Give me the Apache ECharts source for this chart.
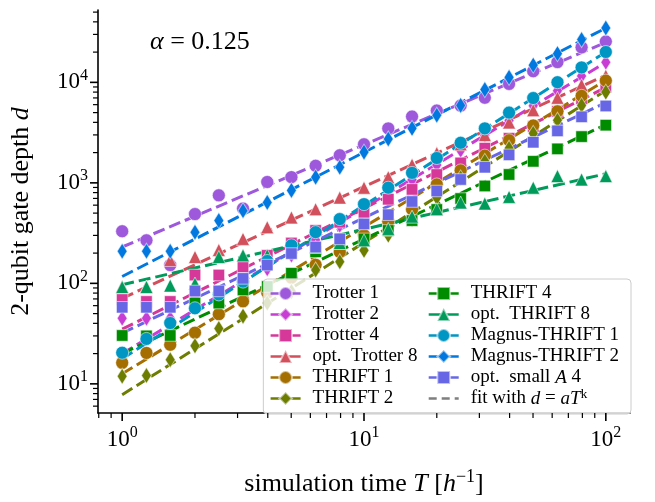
<!DOCTYPE html>
<html><head><meta charset="utf-8">
<script src="https://cdn.jsdelivr.net/npm/echarts@6/dist/echarts.min.js"></script>
<style>html,body{margin:0;padding:0;background:#fff}#c{width:655px;height:502px}</style>
</head><body><div id="c"></div>
<script>
// simulation times
const T = [1, 1.26, 1.58, 2.0, 2.51, 3.16, 3.98, 5.01, 6.31, 7.94, 10, 12.6, 15.8, 20.0, 25.1, 31.6, 39.8, 50.1, 63.1, 79.4, 100];

// 2-qubit gate depths
const trotter1    = [330, 268, 152, 489, 751, 556, 1020, 1140, 1480, 1880, 2420, 3480, 4570, 5240, 5870, 7030, 9650, 12900, 15900, 22300, 25500];
const trotter2    = [45, 45, 45, 74, 74, 104, 140, 192, 270, 378, 544, 764, 1073, 1506, 2115, 2970, 4170, 5860, 8240, 11560, 15850];
const trotter4    = [69, 66, 66, 121, 121, 146, 190, 252, 336, 406, 508, 687, 861, 1210, 1578, 2213, 2775, 3640, 5150, 6870, 8960];
const optTrotter8 = [93, 93, 171, 183, 215, 277, 362, 453, 547, 713, 895, 1140, 1517, 1977, 2422, 2990, 3990, 5290, 7030, 9420, 11640];
const thrift1     = [16.2, 20.3, 24.5, 32.3, 49.3, 66.2, 81, 114, 153, 205, 302, 415, 544, 964, 1330, 1867, 2655, 3724, 5150, 7340, 10400];
const thrift2     = [11.9, 12.1, 17.4, 23.9, 35.6, 47.2, 63.7, 83, 136, 164, 213, 302, 434, 713, 1122, 1637, 2213, 3110, 4200, 5900, 8000];
const thrift4     = [30.3, 30, 30.3, 63.7, 63.7, 86, 93, 126, 206, 248, 277, 336, 421, 543, 698, 931, 1211, 1638, 2178, 2886, 3750];
const optThrift8  = [92, 92, 95, 99.5, 183, 190, 190, 230, 230, 252, 268, 348, 461, 547, 637, 622, 725, 895, 1167, 1080, 1167];
const magnus1     = [20.4, 28, 40.3, 56.5, 77.6, 104, 167, 239, 323, 436, 614, 895, 1257, 1766, 2506, 3484, 5000, 6980, 10030, 14070, 20050];
const magnus2     = [209, 209, 209, 323, 421, 528, 637, 841, 1140, 1430, 2020, 2735, 3485, 4710, 5900, 8470, 11220, 14830, 19300, 26700, 34800];
const optSmallA4  = [57.8, 57.8, 57.8, 84, 84, 112, 152, 198, 230, 277, 390, 482, 652, 830, 1080, 1429, 1900, 2535, 3290, 4540, 5820];

// fitted power-law lines d = a T^k, read as value at T=1 and at T=100
const fitT     = [1, 100];
const fitStart = [230, 20, 35, 71, 12.6, 7.8, 20, 97, 17.8, 117, 32];
const fitEnd   = [25000, 15800, 8900, 11800, 10500, 8300, 3800, 1230, 20000, 34700, 6300];

const names = ['Trotter 1', 'Trotter 2', 'Trotter 4', 'opt. Trotter 8', 'THRIFT 1', 'THRIFT 2',
               'THRIFT 4', 'opt. THRIFT 8', 'Magnus-THRIFT 1', 'Magnus-THRIFT 2', 'opt. small A 4'];
const values = [trotter1, trotter2, trotter4, optTrotter8, thrift1, thrift2, thrift4, optThrift8, magnus1, magnus2, optSmallA4];
const fitName = 'fit with d = aT^k';

// axis ticks
const xMajor = [1, 10, 100];
const xMinor = [0.8, 0.9, 2, 3, 4, 5, 6, 7, 8, 9, 20, 30, 40, 50, 60, 70, 80, 90];
const yMajor = [10, 100, 1000, 10000];
const yMinor = [6, 7, 8, 9, 20, 30, 40, 50, 60, 70, 80, 90, 200, 300, 400, 500, 600, 700, 800, 900,
                2000, 3000, 4000, 5000, 6000, 7000, 8000, 9000, 20000, 30000, 40000, 50000];

const colors = ['#9d58dc', '#c83dd4', '#d6389a', '#d24f5c', '#a46e00', '#6c7d00', '#008c00', '#009b5a', '#0096c3', '#0078e0', '#6767e6'];
const symbols = ['circle', 'diamond', 'rect', 'triangle', 'circle', 'diamond', 'rect', 'triangle', 'circle', 'diamond', 'rect'];
const symSize = {circle: 13, diamond: [10, 16], rect: 11.5, triangle: 13};

const X_MIN = Math.pow(10, -0.1), X_MAX = Math.pow(10, 2.1);
const Y_MIN = Math.pow(10, 0.71), Y_MAX = Math.pow(10, 4.72);
const FONT = 'Liberation Serif';

function tickSeries(vals, axis, len, w) {
  return {
    type: 'custom', silent: true, clip: false, z: 6, animation: false,
    data: vals.map(v => axis === 'x' ? [v, Y_MIN] : [X_MIN, v]),
    renderItem: function (params, api) {
      const p = api.coord([api.value(0), api.value(1)]);
      const shape = axis === 'x'
        ? {x1: p[0], y1: p[1], x2: p[0], y2: p[1] + len}
        : {x1: p[0], y1: p[1], x2: p[0] - len, y2: p[1]};
      return {type: 'line', shape: shape, style: {stroke: '#000', lineWidth: w}};
    }
  };
}

const series = [];
names.forEach((n, i) => {
  series.push({
    type: 'line', name: n,
    data: T.map((t, j) => [t, values[i][j]]),
    symbol: symbols[i], symbolSize: symSize[symbols[i]],
    showSymbol: true, showAllSymbol: true,
    lineStyle: {opacity: 0, width: 2.5, color: colors[i]},
    itemStyle: {color: colors[i], borderColor: 'rgba(255,255,255,0.55)', borderWidth: 1},
    emphasis: {disabled: true}, animation: false
  });
  series.push({
    type: 'line', name: 'fit-' + n,
    data: fitT.map((t, j) => [t, j === 0 ? fitStart[i] : fitEnd[i]]),
    symbol: 'none',
    lineStyle: {color: colors[i], width: 3, type: [12, 5]},
    emphasis: {disabled: true}, animation: false
  });
});
series.push({
  type: 'line', name: fitName, data: [], symbol: 'none',
  lineStyle: {color: '#7f7f7f', width: 3, type: [8, 5]}, itemStyle: {color: '#7f7f7f', opacity: 0}
});
series.push(tickSeries(xMajor, 'x', 8, 1.6));
series.push(tickSeries(xMinor, 'x', 5, 1.2));
series.push(tickSeries(yMajor, 'y', 8, 1.6));
series.push(tickSeries(yMinor, 'y', 5, 1.2));

function powLabel(v) {
  const lg = Math.log10(v);
  const e = Math.round(lg);
  if (Math.abs(lg - e) > 1e-6) return '';
  return '{b|10}{s|' + e + '}';
}
const labelRich = {
  b: {fontSize: 23, fontFamily: FONT, color: '#000'},
  s: {fontSize: 16, fontFamily: FONT, color: '#000', padding: [0, 0, 14, 0]}
};
const legendLabels = {
  'opt. Trotter 8': 'opt.  Trotter 8',
  'opt. THRIFT 8': 'opt.  THRIFT 8',
  'opt. small A 4': 'opt.  small {i|A} 4',
  'fit with d = aT^k': 'fit with {i|d} = {i|aT}{s|k}'
};
const LF = 19;

const chart = echarts.init(document.getElementById('c'), null, {renderer: 'canvas'});
chart.setOption({
  animation: false,
  backgroundColor: '#fff',
  grid: {left: 98, top: 10, width: 532, height: 408, containLabel: false},
  xAxis: {
    type: 'log', logBase: 10, min: X_MIN, max: X_MAX,
    axisLine: {lineStyle: {color: '#000', width: 1.6}},
    axisTick: {show: false}, splitLine: {show: false},
    axisLabel: {formatter: powLabel, rich: labelRich, margin: 12, showMinLabel: false, showMaxLabel: false},
    name: 'simulation time {i|T} [{i|h}{s|−1}]', nameLocation: 'middle', nameGap: 55,
    nameTextStyle: {fontSize: 26, fontFamily: FONT, color: '#000',
      rich: {i: {fontSize: 26, fontFamily: FONT, fontStyle: 'italic'}, s: {fontSize: 18, fontFamily: FONT, padding: [0, 0, 14, 0]}}}
  },
  yAxis: {
    type: 'log', logBase: 10, min: Y_MIN, max: Y_MAX,
    axisLine: {lineStyle: {color: '#000', width: 1.6}},
    axisTick: {show: false}, splitLine: {show: false},
    axisLabel: {formatter: powLabel, rich: labelRich, margin: 10, showMinLabel: false, showMaxLabel: false},
    name: '2-qubit gate depth {i|d}', nameLocation: 'middle', nameGap: 64,
    nameTextStyle: {fontSize: 26, fontFamily: FONT, color: '#000',
      rich: {i: {fontSize: 26, fontFamily: FONT, fontStyle: 'italic'}}}
  },
  legend: {
    data: names.concat([fitName]),
    orient: 'vertical', right: 24, bottom: 88, height: 134,
    itemWidth: 30, itemHeight: 16, itemGap: 0,
    padding: [4, 2, 5, 6],
    backgroundColor: 'rgba(255,255,255,0.8)', borderColor: '#cccccc', borderWidth: 1, borderRadius: 4,
    lineStyle: {opacity: 1, width: 2.5},
    formatter: n => legendLabels[n] || n,
    textStyle: {fontSize: LF, lineHeight: 21, fontFamily: FONT, color: '#000', padding: [0, 10, 0, 7],
      rich: {i: {fontSize: LF, lineHeight: 21, fontFamily: FONT, fontStyle: 'italic'},
             s: {fontSize: 13, lineHeight: 13, fontFamily: FONT, padding: [0, 0, 8, 0]}}},
    selectedMode: false
  },
  graphic: [{
    type: 'text', left: 150, top: 29, silent: true,
    style: {text: '{i|α} = 0.125', fontSize: 26, fontFamily: FONT, fill: '#000',
      rich: {i: {fontSize: 26, fontFamily: FONT, fontStyle: 'italic'}}}
  }],
  series: series
});
</script></body></html>
